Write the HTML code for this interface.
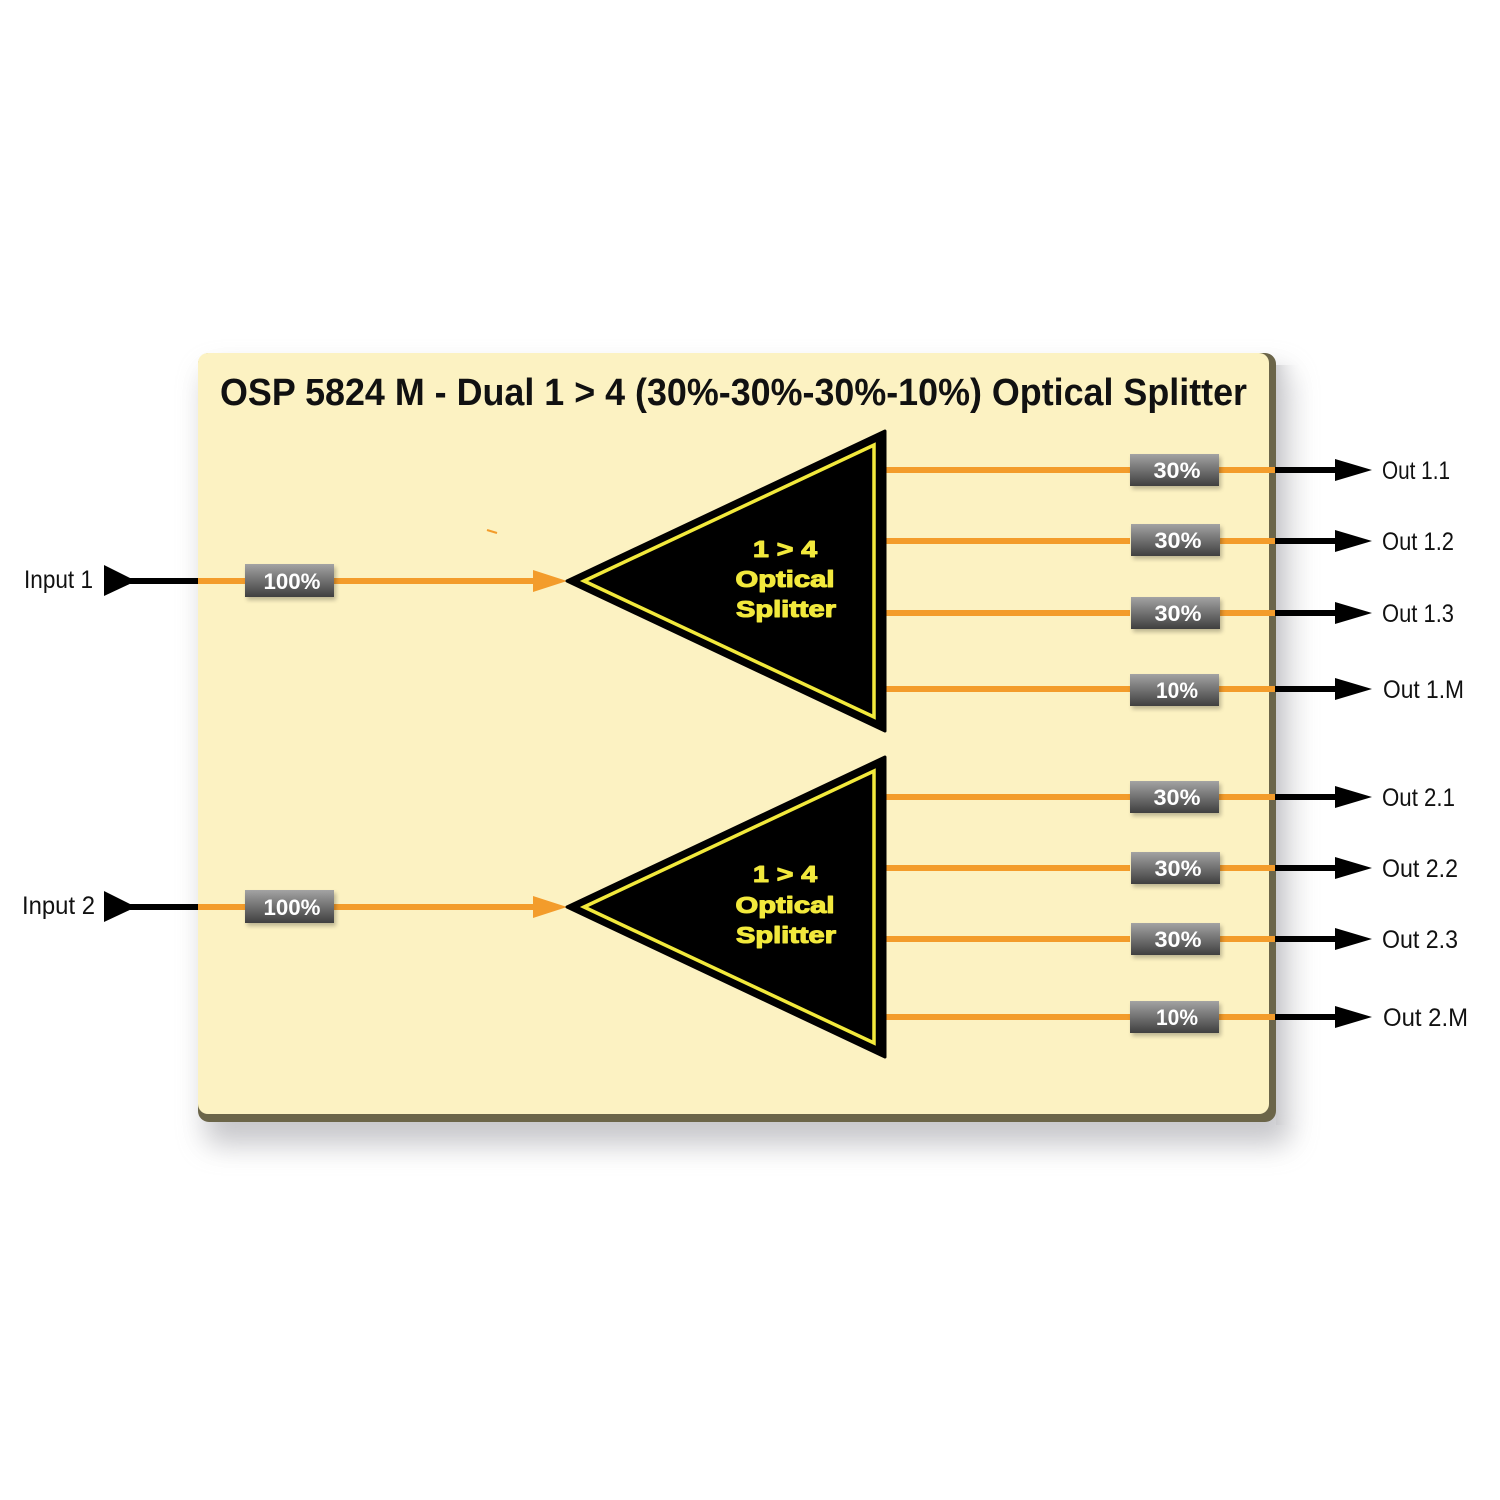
<!DOCTYPE html>
<html>
<head>
<meta charset="utf-8">
<style>
html,body{margin:0;padding:0;background:#fff;}
svg{display:block;}
</style>
</head>
<body>
<svg width="1500" height="1500" viewBox="0 0 1500 1500" xmlns="http://www.w3.org/2000/svg">
<defs>
  <filter id="sh" x="-10%" y="-10%" width="130%" height="130%">
    <feGaussianBlur stdDeviation="14"/>
  </filter>
  <filter id="sh2" x="-20%" y="-50%" width="140%" height="200%">
    <feGaussianBlur stdDeviation="2"/>
  </filter>
  <linearGradient id="badge" x1="0" y1="0" x2="0" y2="1">
    <stop offset="0" stop-color="#a3a3a3"/>
    <stop offset="0.45" stop-color="#767676"/>
    <stop offset="1" stop-color="#3f3f3f"/>
  </linearGradient>
  <linearGradient id="rightshade" x1="0" y1="0" x2="1" y2="0">
    <stop offset="0" stop-color="#c9c9cc"/>
    <stop offset="1" stop-color="#ffffff" stop-opacity="0"/>
  </linearGradient>
</defs>

<rect width="1500" height="1500" fill="#ffffff"/>

<!-- box shadow -->
<rect x="205" y="370" width="1085" height="775" rx="12" fill="#9a9aa0" opacity="0.55" filter="url(#sh)"/>
<rect x="1276" y="365" width="26" height="760" fill="url(#rightshade)" opacity="0.8"/>

<!-- box -->
<rect x="198" y="353" width="1078" height="769" rx="11" fill="#6b6549"/>
<rect x="198" y="353" width="1071" height="761" rx="10" fill="#fcf2c2"/>

<!-- title -->
<text x="220" y="405" font-family="Liberation Sans, sans-serif" font-weight="bold" font-size="38" fill="#111" textLength="1027" lengthAdjust="spacingAndGlyphs">OSP 5824 M - Dual 1 &gt; 4 (30%-30%-30%-10%) Optical Splitter</text>

<!-- stray orange tick -->
<line x1="487" y1="530" x2="497" y2="533" stroke="#f39c2b" stroke-width="2"/>

<!-- INPUTS -->
<g font-family="Liberation Sans, sans-serif" fill="#111">
  <text x="24" y="588" font-size="25" textLength="69" lengthAdjust="spacingAndGlyphs">Input 1</text>
  <text x="22" y="914" font-size="25" textLength="73" lengthAdjust="spacingAndGlyphs">Input 2</text>
</g>

<!-- input 1 -->
<polygon points="104,565 104,596 136,581" fill="#000"/>
<rect x="130" y="578" width="68" height="6" fill="#000"/>
<rect x="198" y="578" width="340" height="6" fill="#f39c2b"/>
<polygon points="533,570 533,592 567,581" fill="#f39c2b"/>
<!-- input 2 -->
<polygon points="104,891 104,922 136,907" fill="#000"/>
<rect x="130" y="904" width="68" height="6" fill="#000"/>
<rect x="198" y="904" width="340" height="6" fill="#f39c2b"/>
<polygon points="533,896 533,918 567,907" fill="#f39c2b"/>

<!-- 100% badges -->
<g font-family="Liberation Sans, sans-serif" font-weight="bold" font-size="22" fill="#fff" text-anchor="middle">
  <rect x="247" y="567" width="89" height="33" fill="#000" opacity="0.25" filter="url(#sh2)"/>
  <rect x="245" y="564" width="89" height="33" fill="url(#badge)"/>
  <text x="292" y="589" textLength="57" lengthAdjust="spacingAndGlyphs">100%</text>
  <rect x="247" y="893" width="89" height="33" fill="#000" opacity="0.25" filter="url(#sh2)"/>
  <rect x="245" y="890" width="89" height="33" fill="url(#badge)"/>
  <text x="292" y="915" textLength="57" lengthAdjust="spacingAndGlyphs">100%</text>
</g>

<!-- OUTPUT LINES -->
<g id="outs">
  <g fill="#f39c2b">
    <rect x="878" y="467" width="252" height="6"/><rect x="1219" y="467" width="56" height="6"/>
    <rect x="878" y="538" width="252" height="6"/><rect x="1219" y="538" width="56" height="6"/>
    <rect x="878" y="610" width="252" height="6"/><rect x="1219" y="610" width="56" height="6"/>
    <rect x="878" y="686" width="252" height="6"/><rect x="1219" y="686" width="56" height="6"/>
    <rect x="878" y="794" width="252" height="6"/><rect x="1219" y="794" width="56" height="6"/>
    <rect x="878" y="865" width="252" height="6"/><rect x="1219" y="865" width="56" height="6"/>
    <rect x="878" y="936" width="252" height="6"/><rect x="1219" y="936" width="56" height="6"/>
    <rect x="878" y="1014" width="252" height="6"/><rect x="1219" y="1014" width="56" height="6"/>
  </g>
  <g fill="#000">
    <rect x="1275" y="467" width="64" height="6"/><polygon points="1335,459 1335,481 1372,470"/>
    <rect x="1275" y="538" width="64" height="6"/><polygon points="1335,530 1335,552 1372,541"/>
    <rect x="1275" y="610" width="64" height="6"/><polygon points="1335,602 1335,624 1372,613"/>
    <rect x="1275" y="686" width="64" height="6"/><polygon points="1335,678 1335,700 1372,689"/>
    <rect x="1275" y="794" width="64" height="6"/><polygon points="1335,786 1335,808 1372,797"/>
    <rect x="1275" y="865" width="64" height="6"/><polygon points="1335,857 1335,879 1372,868"/>
    <rect x="1275" y="936" width="64" height="6"/><polygon points="1335,928 1335,950 1372,939"/>
    <rect x="1275" y="1014" width="64" height="6"/><polygon points="1335,1006 1335,1028 1372,1017"/>
  </g>
</g>

<!-- output badges -->
<g font-family="Liberation Sans, sans-serif" font-weight="bold" font-size="22" fill="#fff" text-anchor="middle">
  <g opacity="0.25" fill="#000" filter="url(#sh2)">
    <rect x="1132" y="457" width="89" height="32"/>
    <rect x="1133" y="527" width="89" height="32"/>
    <rect x="1133" y="600" width="89" height="32"/>
    <rect x="1132" y="677" width="89" height="32"/>
    <rect x="1132" y="784" width="89" height="32"/>
    <rect x="1133" y="855" width="89" height="32"/>
    <rect x="1133" y="926" width="89" height="32"/>
    <rect x="1132" y="1004" width="89" height="32"/>
  </g>
  <rect x="1130" y="454" width="89" height="32" fill="url(#badge)"/>
  <rect x="1131" y="524" width="89" height="32" fill="url(#badge)"/>
  <rect x="1131" y="597" width="89" height="32" fill="url(#badge)"/>
  <rect x="1130" y="674" width="89" height="32" fill="url(#badge)"/>
  <rect x="1130" y="781" width="89" height="32" fill="url(#badge)"/>
  <rect x="1131" y="852" width="89" height="32" fill="url(#badge)"/>
  <rect x="1131" y="923" width="89" height="32" fill="url(#badge)"/>
  <rect x="1130" y="1001" width="89" height="32" fill="url(#badge)"/>
  <text x="1177" y="478" textLength="47" lengthAdjust="spacingAndGlyphs">30%</text>
  <text x="1178" y="548" textLength="47" lengthAdjust="spacingAndGlyphs">30%</text>
  <text x="1178" y="621" textLength="47" lengthAdjust="spacingAndGlyphs">30%</text>
  <text x="1177" y="698" textLength="42" lengthAdjust="spacingAndGlyphs">10%</text>
  <text x="1177" y="805" textLength="47" lengthAdjust="spacingAndGlyphs">30%</text>
  <text x="1178" y="876" textLength="47" lengthAdjust="spacingAndGlyphs">30%</text>
  <text x="1178" y="947" textLength="47" lengthAdjust="spacingAndGlyphs">30%</text>
  <text x="1177" y="1025" textLength="42" lengthAdjust="spacingAndGlyphs">10%</text>
</g>

<!-- output labels -->
<g font-family="Liberation Sans, sans-serif" font-size="25" fill="#111">
  <text x="1382" y="479" textLength="68" lengthAdjust="spacingAndGlyphs">Out 1.1</text>
  <text x="1382" y="550" textLength="72" lengthAdjust="spacingAndGlyphs">Out 1.2</text>
  <text x="1382" y="622" textLength="72" lengthAdjust="spacingAndGlyphs">Out 1.3</text>
  <text x="1383" y="698" textLength="81" lengthAdjust="spacingAndGlyphs">Out 1.M</text>
  <text x="1382" y="806" textLength="73" lengthAdjust="spacingAndGlyphs">Out 2.1</text>
  <text x="1382" y="877" textLength="76" lengthAdjust="spacingAndGlyphs">Out 2.2</text>
  <text x="1382" y="948" textLength="76" lengthAdjust="spacingAndGlyphs">Out 2.3</text>
  <text x="1383" y="1026" textLength="85" lengthAdjust="spacingAndGlyphs">Out 2.M</text>
</g>

<!-- TRIANGLES -->
<polygon points="567,581 885,431 885,731" fill="#000" stroke="#000" stroke-width="3" stroke-linejoin="round"/>
<polygon points="584,581 874,445 874,717" fill="none" stroke="#f2e93c" stroke-width="3.5"/>
<polygon points="567,907 885,757 885,1057" fill="#000" stroke="#000" stroke-width="3" stroke-linejoin="round"/>
<polygon points="584,907 874,771 874,1043" fill="none" stroke="#f2e93c" stroke-width="3.5"/>

<g font-family="Liberation Sans, sans-serif" font-weight="bold" font-size="23" fill="#f2e93c" stroke="#f2e93c" stroke-width="1.1" stroke-linejoin="round" text-anchor="middle">
  <text x="785" y="557" textLength="64" lengthAdjust="spacingAndGlyphs">1 &gt; 4</text>
  <text x="785" y="587" textLength="99" lengthAdjust="spacingAndGlyphs">Optical</text>
  <text x="786" y="617" textLength="100" lengthAdjust="spacingAndGlyphs">Splitter</text>
  <text x="785" y="882" textLength="64" lengthAdjust="spacingAndGlyphs">1 &gt; 4</text>
  <text x="785" y="913" textLength="99" lengthAdjust="spacingAndGlyphs">Optical</text>
  <text x="786" y="943" textLength="100" lengthAdjust="spacingAndGlyphs">Splitter</text>
</g>
</svg>
</body>
</html>
